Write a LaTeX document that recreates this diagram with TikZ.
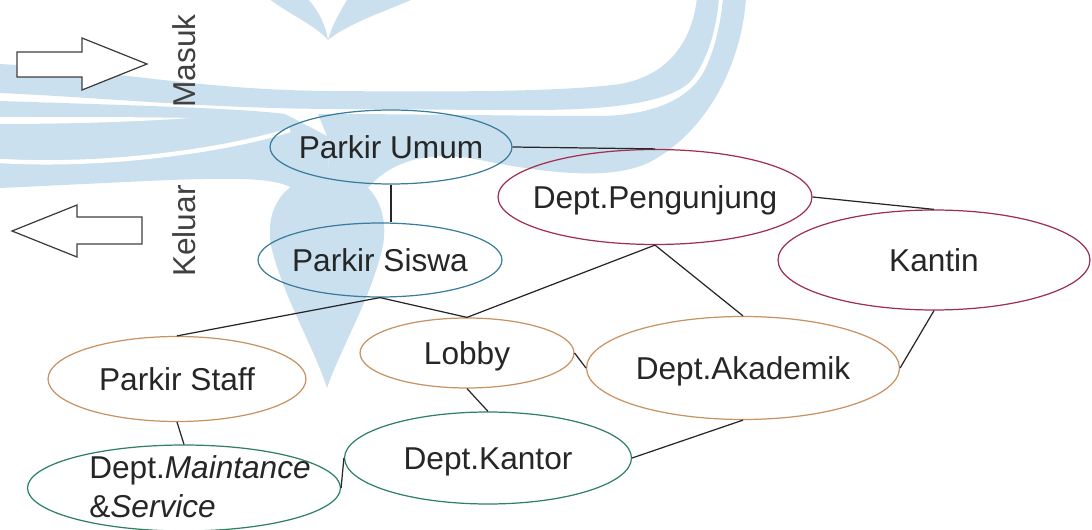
\documentclass[tikz,border=0pt]{standalone}
\usepackage{fontspec}
\setmainfont{Liberation Sans}
\usetikzlibrary{shapes.geometric}
\definecolor{wm}{RGB}{202,224,238}
\definecolor{txt}{RGB}{38,38,38}
\definecolor{gry}{RGB}{64,64,64}
\definecolor{cblue}{RGB}{58,124,158}
\definecolor{cred}{RGB}{160,48,80}
\definecolor{ctan}{RGB}{200,146,98}
\definecolor{cgreen}{RGB}{48,128,98}
\tikzset{
  oval/.style={ellipse, draw=#1, line width=0.7pt, inner sep=0pt},
  lbl/.style={text=txt, font=\fontsize{18}{22}\selectfont, inner sep=0pt, text height=12.9pt, text depth=0pt},
  side/.style={text=gry, font=\fontsize{18}{22}\selectfont, inner sep=0pt, text height=12.9pt, text depth=0pt, rotate=90},
  link/.style={draw=txt, line width=0.7pt},
  blockarrow/.style={draw=gry, line width=0.7pt, fill=white},
}
\begin{document}
\begin{tikzpicture}[x=0.02cm, y=-0.02cm]
\useasboundingbox (0,0) rectangle (1092,530);

% watermark emblem in the background
\begin{scope}
  % horns at the top
  \fill[wm] (268,-2) .. controls (290,15) and (315,25) .. (328,40) .. controls (326,25) and (318,10) .. (307,-2) -- cycle;
  \fill[wm] (348,-2) .. controls (340,12) and (332,25) .. (328,40) .. controls (350,22) and (390,10) .. (415,-2) -- cycle;
  % thin upper swoosh
  \fill[wm] (0,64) .. controls (110,70) and (200,90) .. (330,91) .. controls (450,92) and (560,92) .. (620,84)
            .. controls (670,75) and (692,40) .. (697,-2) -- (719,-2) .. controls (716,35) and (705,65) .. (690,82)
            .. controls (665,105) and (600,110) .. (530,110) .. controls (440,110) and (400,109) .. (330,109)
            .. controls (200,108) and (110,98) .. (0,93) -- cycle;
  % wide outer swoosh
  \fill[wm] (318,114) .. controls (420,114) and (520,116) .. (600,116) .. controls (660,115) and (695,95) .. (707,65)
            .. controls (716,45) and (721,20) .. (723,-2) -- (746,-2) .. controls (742,60) and (710,130) .. (650,162)
            .. controls (610,182) and (540,172) .. (480,160) .. controls (430,150) and (392,160) .. (368,188)
            -- (330,188) -- (327,136) -- cycle;
  % left wing
  \fill[wm] (0,101) .. controls (120,105) and (240,108) .. (285,114) -- (327,136) -- (330,188) -- (292,188)
            .. controls (265,172) and (180,180) .. (0,188) -- cycle;
  \fill[white] (0,117) .. controls (80,117) and (150,117) .. (190,118) .. controls (150,121) and (80,124) .. (0,124) -- cycle;
  \draw[white, line width=2.5pt] (0,161) .. controls (100,167) and (220,152) .. (290,130);
  % drop
  \fill[wm] (292,186) .. controls (272,200) and (266,225) .. (272,250) .. controls (285,300) and (315,350) .. (327,388)
            .. controls (340,350) and (370,300) .. (382,250) .. controls (388,225) and (382,200) .. (366,186) -- cycle;
\end{scope}

% entry / exit arrows
\draw[blockarrow] (17,52) -- (82,52) -- (82,38) -- (147,64) -- (82,90) -- (82,77) -- (17,77) -- cycle;
\draw[blockarrow] (142,217) -- (77,217) -- (77,205) -- (12,231) -- (77,257) -- (77,244) -- (142,244) -- cycle;
\node[side] (masuk) at (184,61) {Masuk};
\node[side] (keluar) at (184,231) {Keluar};

% areas
\node[oval=cblue, minimum width=4.84cm, minimum height=1.48cm] (pu) at (391,147) {};
\node[oval=cblue, minimum width=4.88cm, minimum height=1.48cm] (ps) at (380,260) {};
\node[oval=cred, minimum width=6.28cm, minimum height=1.90cm] (dp) at (655,197) {};
\node[oval=cred, minimum width=6.24cm, minimum height=2.00cm] (ka) at (934,260) {};
\node[oval=ctan, minimum width=5.16cm, minimum height=1.70cm] (pst) at (177,379) {};
\node[oval=ctan, minimum width=4.28cm, minimum height=1.40cm] (lo) at (467,353) {};
\node[oval=ctan, minimum width=6.26cm, minimum height=2.06cm] (da) at (743,368) {};
\node[oval=cgreen, minimum width=5.74cm, minimum height=1.84cm] (dk) at (488,458) {};
\node[oval=cgreen, minimum width=6.26cm, minimum height=1.72cm] (dm) at (184,488) {};

\node[lbl] (pu-t) at (pu) {Parkir Umum};
\node[lbl] (ps-t) at (ps) {Parkir Siswa};
\node[lbl] (dp-t) at (dp) {Dept.Pengunjung};
\node[lbl] (ka-t) at (ka) {Kantin};
\node[lbl] (pst-t) at (pst) {Parkir Staff};
\node[lbl] (lo-t) at (lo) {Lobby};
\node[lbl] (da-t) at (da) {Dept.Akademik};
\node[lbl] (dk-t) at (dk) {Dept.Kantor};
\node[text=txt, font=\fontsize{18}{22}\selectfont, inner sep=0pt, align=left] (dm-t) at (200,487)
  {Dept.\textit{Maintance}\\\&\textit{Service}};

% connections
\draw[link] (pu.south) -- (pu.south |- ps.north);
\draw[link] (pu.east) -- (dp.north);
\draw[link] (dp.east) -- (ka.north);
\draw[link] (dp.south) -- (lo.north);
\draw[link] (dp.south) -- (da.north);
\draw[link] (ps.south) -- (pst.north);
\draw[link] (ps.south) -- (lo.north);
\draw[link] (lo.east) -- (da.west);
\draw[link] (lo.south) -- (dk.north);
\draw[link] (pst.south) -- (dm.north);
\draw[link] (dm.east) -- (dk.west);
\draw[link] (dk.east) -- (da.south);
\draw[link] (ka.south) -- (da.east);
\end{tikzpicture}
\end{document}
